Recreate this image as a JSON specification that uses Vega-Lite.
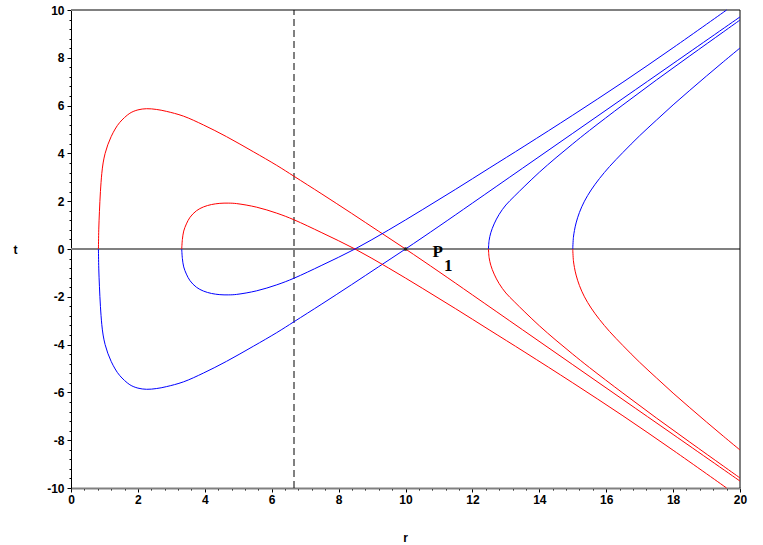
{
  "$schema": "https://vega.github.io/schema/vega-lite/v6.json",
  "width": 669,
  "height": 478,
  "autosize": {"type": "none"},
  "padding": {"left": 71, "top": 10, "right": 23, "bottom": 57},
  "background": "white",
  "config": {
    "view": {"stroke": null},
    "axis": {
      "labelFont": "Liberation Sans",
      "labelFontWeight": "bold",
      "labelFontSize": 12,
      "labelColor": "black",
      "titleFont": "Liberation Sans",
      "titleFontWeight": "bold",
      "titleFontSize": 12,
      "titleColor": "black",
      "grid": false,
      "tickColor": "black",
      "labelOverlap": false
    }
  },
  "datasets": {
    "curves": [
      {"k":"O","b":"red","i":0,"r":0.82,"t":0},
      {"k":"O","b":"red","i":1,"r":0.83,"t":0.8},
      {"k":"O","b":"red","i":2,"r":0.85,"t":1.56},
      {"k":"O","b":"red","i":3,"r":0.88,"t":2.4},
      {"k":"O","b":"red","i":4,"r":0.92,"t":3.15},
      {"k":"O","b":"red","i":5,"r":0.96,"t":3.6},
      {"k":"O","b":"red","i":6,"r":1.02,"t":4.0},
      {"k":"O","b":"red","i":7,"r":1.1,"t":4.36},
      {"k":"O","b":"red","i":8,"r":1.2,"t":4.7},
      {"k":"O","b":"red","i":9,"r":1.32,"t":5.02},
      {"k":"O","b":"red","i":10,"r":1.46,"t":5.3},
      {"k":"O","b":"red","i":11,"r":1.76,"t":5.68},
      {"k":"O","b":"red","i":12,"r":2.0,"t":5.82},
      {"k":"O","b":"red","i":13,"r":2.26,"t":5.87},
      {"k":"O","b":"red","i":14,"r":2.55,"t":5.84},
      {"k":"O","b":"red","i":15,"r":2.85,"t":5.76},
      {"k":"O","b":"red","i":16,"r":3.36,"t":5.56},
      {"k":"O","b":"red","i":17,"r":3.96,"t":5.19},
      {"k":"O","b":"red","i":18,"r":4.65,"t":4.7},
      {"k":"O","b":"red","i":19,"r":5.45,"t":4.07},
      {"k":"O","b":"red","i":20,"r":6.15,"t":3.5},
      {"k":"O","b":"red","i":21,"r":6.67,"t":3.04},
      {"k":"O","b":"red","i":22,"r":7.5,"t":2.3},
      {"k":"O","b":"red","i":23,"r":8.39,"t":1.49},
      {"k":"O","b":"red","i":24,"r":9.2,"t":0.74},
      {"k":"O","b":"red","i":25,"r":10,"t":0},
      {"k":"O","b":"red","i":26,"r":11,"t":-0.95},
      {"k":"O","b":"red","i":27,"r":12,"t":-1.92},
      {"k":"O","b":"red","i":28,"r":13.5,"t":-3.38},
      {"k":"O","b":"red","i":29,"r":15,"t":-4.84},
      {"k":"O","b":"red","i":30,"r":16.5,"t":-6.3},
      {"k":"O","b":"red","i":31,"r":18,"t":-7.76},
      {"k":"O","b":"red","i":32,"r":20,"t":-9.71},

      {"k":"O","b":"blue","i":0,"r":0.82,"t":0},
      {"k":"O","b":"blue","i":1,"r":0.83,"t":-0.8},
      {"k":"O","b":"blue","i":2,"r":0.85,"t":-1.56},
      {"k":"O","b":"blue","i":3,"r":0.88,"t":-2.4},
      {"k":"O","b":"blue","i":4,"r":0.92,"t":-3.15},
      {"k":"O","b":"blue","i":5,"r":0.96,"t":-3.6},
      {"k":"O","b":"blue","i":6,"r":1.02,"t":-4.0},
      {"k":"O","b":"blue","i":7,"r":1.1,"t":-4.36},
      {"k":"O","b":"blue","i":8,"r":1.2,"t":-4.7},
      {"k":"O","b":"blue","i":9,"r":1.32,"t":-5.02},
      {"k":"O","b":"blue","i":10,"r":1.46,"t":-5.3},
      {"k":"O","b":"blue","i":11,"r":1.76,"t":-5.68},
      {"k":"O","b":"blue","i":12,"r":2.0,"t":-5.82},
      {"k":"O","b":"blue","i":13,"r":2.26,"t":-5.87},
      {"k":"O","b":"blue","i":14,"r":2.55,"t":-5.84},
      {"k":"O","b":"blue","i":15,"r":2.85,"t":-5.76},
      {"k":"O","b":"blue","i":16,"r":3.36,"t":-5.56},
      {"k":"O","b":"blue","i":17,"r":3.96,"t":-5.19},
      {"k":"O","b":"blue","i":18,"r":4.65,"t":-4.7},
      {"k":"O","b":"blue","i":19,"r":5.45,"t":-4.07},
      {"k":"O","b":"blue","i":20,"r":6.15,"t":-3.5},
      {"k":"O","b":"blue","i":21,"r":6.67,"t":-3.04},
      {"k":"O","b":"blue","i":22,"r":7.5,"t":-2.3},
      {"k":"O","b":"blue","i":23,"r":8.39,"t":-1.49},
      {"k":"O","b":"blue","i":24,"r":9.2,"t":-0.74},
      {"k":"O","b":"blue","i":25,"r":10,"t":0},
      {"k":"O","b":"blue","i":26,"r":11,"t":0.95},
      {"k":"O","b":"blue","i":27,"r":12,"t":1.92},
      {"k":"O","b":"blue","i":28,"r":13.5,"t":3.38},
      {"k":"O","b":"blue","i":29,"r":15,"t":4.84},
      {"k":"O","b":"blue","i":30,"r":16.5,"t":6.3},
      {"k":"O","b":"blue","i":31,"r":18,"t":7.76},
      {"k":"O","b":"blue","i":32,"r":20,"t":9.71},

      {"k":"I","b":"red","i":0,"r":3.31,"t":0},
      {"k":"I","b":"red","i":1,"r":3.33,"t":0.4},
      {"k":"I","b":"red","i":2,"r":3.37,"t":0.75},
      {"k":"I","b":"red","i":3,"r":3.45,"t":1.05},
      {"k":"I","b":"red","i":4,"r":3.56,"t":1.33},
      {"k":"I","b":"red","i":5,"r":3.75,"t":1.6},
      {"k":"I","b":"red","i":6,"r":3.96,"t":1.76},
      {"k":"I","b":"red","i":7,"r":4.2,"t":1.86},
      {"k":"I","b":"red","i":8,"r":4.45,"t":1.91},
      {"k":"I","b":"red","i":9,"r":4.7,"t":1.92},
      {"k":"I","b":"red","i":10,"r":4.95,"t":1.9},
      {"k":"I","b":"red","i":11,"r":5.55,"t":1.75},
      {"k":"I","b":"red","i":12,"r":6.15,"t":1.5},
      {"k":"I","b":"red","i":13,"r":6.67,"t":1.22},
      {"k":"I","b":"red","i":14,"r":7.5,"t":0.68},
      {"k":"I","b":"red","i":15,"r":8.49,"t":0},
      {"k":"I","b":"red","i":16,"r":9.5,"t":-0.8},
      {"k":"I","b":"red","i":17,"r":10.5,"t":-1.64},
      {"k":"I","b":"red","i":18,"r":11.5,"t":-2.5},
      {"k":"I","b":"red","i":19,"r":12.5,"t":-3.38},
      {"k":"I","b":"red","i":20,"r":13.57,"t":-4.32},
      {"k":"I","b":"red","i":21,"r":15,"t":-5.6},
      {"k":"I","b":"red","i":22,"r":16.5,"t":-6.98},
      {"k":"I","b":"red","i":23,"r":18,"t":-8.42},
      {"k":"I","b":"red","i":24,"r":19.6,"t":-10},

      {"k":"I","b":"blue","i":0,"r":3.31,"t":0},
      {"k":"I","b":"blue","i":1,"r":3.33,"t":-0.4},
      {"k":"I","b":"blue","i":2,"r":3.37,"t":-0.75},
      {"k":"I","b":"blue","i":3,"r":3.45,"t":-1.05},
      {"k":"I","b":"blue","i":4,"r":3.56,"t":-1.33},
      {"k":"I","b":"blue","i":5,"r":3.75,"t":-1.6},
      {"k":"I","b":"blue","i":6,"r":3.96,"t":-1.76},
      {"k":"I","b":"blue","i":7,"r":4.2,"t":-1.86},
      {"k":"I","b":"blue","i":8,"r":4.45,"t":-1.91},
      {"k":"I","b":"blue","i":9,"r":4.7,"t":-1.92},
      {"k":"I","b":"blue","i":10,"r":4.95,"t":-1.9},
      {"k":"I","b":"blue","i":11,"r":5.55,"t":-1.75},
      {"k":"I","b":"blue","i":12,"r":6.15,"t":-1.5},
      {"k":"I","b":"blue","i":13,"r":6.67,"t":-1.22},
      {"k":"I","b":"blue","i":14,"r":7.5,"t":-0.68},
      {"k":"I","b":"blue","i":15,"r":8.49,"t":0},
      {"k":"I","b":"blue","i":16,"r":9.5,"t":0.8},
      {"k":"I","b":"blue","i":17,"r":10.5,"t":1.64},
      {"k":"I","b":"blue","i":18,"r":11.5,"t":2.5},
      {"k":"I","b":"blue","i":19,"r":12.5,"t":3.38},
      {"k":"I","b":"blue","i":20,"r":13.57,"t":4.32},
      {"k":"I","b":"blue","i":21,"r":15,"t":5.6},
      {"k":"I","b":"blue","i":22,"r":16.5,"t":6.98},
      {"k":"I","b":"blue","i":23,"r":18,"t":8.42},
      {"k":"I","b":"blue","i":24,"r":19.6,"t":10},

      {"k":"H1","b":"red","i":0,"r":12.48,"t":0},
      {"k":"H1","b":"red","i":1,"r":12.5,"t":-0.36},
      {"k":"H1","b":"red","i":2,"r":12.55,"t":-0.68},
      {"k":"H1","b":"red","i":3,"r":12.65,"t":-1.05},
      {"k":"H1","b":"red","i":4,"r":12.8,"t":-1.45},
      {"k":"H1","b":"red","i":5,"r":13.0,"t":-1.84},
      {"k":"H1","b":"red","i":6,"r":13.25,"t":-2.2},
      {"k":"H1","b":"red","i":7,"r":13.57,"t":-2.64},
      {"k":"H1","b":"red","i":8,"r":14.0,"t":-3.21},
      {"k":"H1","b":"red","i":9,"r":14.5,"t":-3.82},
      {"k":"H1","b":"red","i":10,"r":15.0,"t":-4.4},
      {"k":"H1","b":"red","i":11,"r":15.5,"t":-4.96},
      {"k":"H1","b":"red","i":12,"r":16.5,"t":-6.03},
      {"k":"H1","b":"red","i":13,"r":17.5,"t":-7.07},
      {"k":"H1","b":"red","i":14,"r":18.5,"t":-8.08},
      {"k":"H1","b":"red","i":15,"r":19.5,"t":-9.08},
      {"k":"H1","b":"red","i":16,"r":20,"t":-9.58},

      {"k":"H1","b":"blue","i":0,"r":12.48,"t":0},
      {"k":"H1","b":"blue","i":1,"r":12.5,"t":0.36},
      {"k":"H1","b":"blue","i":2,"r":12.55,"t":0.68},
      {"k":"H1","b":"blue","i":3,"r":12.65,"t":1.05},
      {"k":"H1","b":"blue","i":4,"r":12.8,"t":1.45},
      {"k":"H1","b":"blue","i":5,"r":13.0,"t":1.84},
      {"k":"H1","b":"blue","i":6,"r":13.25,"t":2.2},
      {"k":"H1","b":"blue","i":7,"r":13.57,"t":2.64},
      {"k":"H1","b":"blue","i":8,"r":14.0,"t":3.21},
      {"k":"H1","b":"blue","i":9,"r":14.5,"t":3.82},
      {"k":"H1","b":"blue","i":10,"r":15.0,"t":4.4},
      {"k":"H1","b":"blue","i":11,"r":15.5,"t":4.96},
      {"k":"H1","b":"blue","i":12,"r":16.5,"t":6.03},
      {"k":"H1","b":"blue","i":13,"r":17.5,"t":7.07},
      {"k":"H1","b":"blue","i":14,"r":18.5,"t":8.08},
      {"k":"H1","b":"blue","i":15,"r":19.5,"t":9.08},
      {"k":"H1","b":"blue","i":16,"r":20,"t":9.58},

      {"k":"H2","b":"red","i":0,"r":15.0,"t":0},
      {"k":"H2","b":"red","i":1,"r":15.02,"t":-0.49},
      {"k":"H2","b":"red","i":2,"r":15.05,"t":-0.77},
      {"k":"H2","b":"red","i":3,"r":15.1,"t":-1.09},
      {"k":"H2","b":"red","i":4,"r":15.2,"t":-1.53},
      {"k":"H2","b":"red","i":5,"r":15.35,"t":-2.0},
      {"k":"H2","b":"red","i":6,"r":15.55,"t":-2.47},
      {"k":"H2","b":"red","i":7,"r":15.8,"t":-2.95},
      {"k":"H2","b":"red","i":8,"r":16.1,"t":-3.45},
      {"k":"H2","b":"red","i":9,"r":16.5,"t":-4.04},
      {"k":"H2","b":"red","i":10,"r":17.0,"t":-4.74},
      {"k":"H2","b":"red","i":11,"r":17.5,"t":-5.39},
      {"k":"H2","b":"red","i":12,"r":18.0,"t":-6.03},
      {"k":"H2","b":"red","i":13,"r":18.5,"t":-6.64},
      {"k":"H2","b":"red","i":14,"r":19.0,"t":-7.24},
      {"k":"H2","b":"red","i":15,"r":19.5,"t":-7.83},
      {"k":"H2","b":"red","i":16,"r":20,"t":-8.41},

      {"k":"H2","b":"blue","i":0,"r":15.0,"t":0},
      {"k":"H2","b":"blue","i":1,"r":15.02,"t":0.49},
      {"k":"H2","b":"blue","i":2,"r":15.05,"t":0.77},
      {"k":"H2","b":"blue","i":3,"r":15.1,"t":1.09},
      {"k":"H2","b":"blue","i":4,"r":15.2,"t":1.53},
      {"k":"H2","b":"blue","i":5,"r":15.35,"t":2.0},
      {"k":"H2","b":"blue","i":6,"r":15.55,"t":2.47},
      {"k":"H2","b":"blue","i":7,"r":15.8,"t":2.95},
      {"k":"H2","b":"blue","i":8,"r":16.1,"t":3.45},
      {"k":"H2","b":"blue","i":9,"r":16.5,"t":4.04},
      {"k":"H2","b":"blue","i":10,"r":17.0,"t":4.74},
      {"k":"H2","b":"blue","i":11,"r":17.5,"t":5.39},
      {"k":"H2","b":"blue","i":12,"r":18.0,"t":6.03},
      {"k":"H2","b":"blue","i":13,"r":18.5,"t":6.64},
      {"k":"H2","b":"blue","i":14,"r":19.0,"t":7.24},
      {"k":"H2","b":"blue","i":15,"r":19.5,"t":7.83},
      {"k":"H2","b":"blue","i":16,"r":20,"t":8.41}
    ],
    "hlines": [
      {"r": 0, "r2": 20, "t": 0},
      {"r": 0, "r2": 20, "t": 10}
    ],
    "labels": [
      {"txt":"P","r":10.81,"t":-0.35},
      {"txt":"1","r":11.15,"t":-0.91}
    ]
  },
  "encoding": {
    "x": {"field": "r", "type": "quantitative", "scale": {"domain": [0, 20], "nice": false, "zero": false},
      "axis": {
        "title": "r", "titleX": 334, "titleY": 49, "titleAlign": "center", "titleBaseline": "middle",
        "domainColor": "#808080", "domainWidth": 2,
        "values": [0,0.4,0.8,1.2,1.6,2,2.4,2.8,3.2,3.6,4,4.4,4.8,5.2,5.6,6,6.4,6.8,7.2,7.6,8,8.4,8.8,9.2,9.6,10,10.4,10.8,11.2,11.6,12,12.4,12.8,13.2,13.6,14,14.4,14.8,15.2,15.6,16,16.4,16.8,17.2,17.6,18,18.4,18.8,19.2,19.6,20],
        "labelExpr": "abs(datum.value/2 - round(datum.value/2)) < 0.01 ? '' + round(datum.value) : ''",
        "tickSize": {"condition": {"test": "abs(datum.value/2 - round(datum.value/2)) < 0.01", "value": 4}, "value": 2},
        "labelPadding": 2,
        "labelOverlap": false,
        "labelFlush": false,
        "labelBound": false
      }},
    "y": {"field": "t", "type": "quantitative", "scale": {"domain": [-10, 10], "nice": false, "zero": false},
      "axis": {
        "title": "t", "titleAngle": 0, "titleX": -56, "titleY": 239, "titleAlign": "center", "titleBaseline": "middle",
        "domainColor": "black", "domainWidth": 1,
        "values": [-10,-9.6,-9.2,-8.8,-8.4,-8,-7.6,-7.2,-6.8,-6.4,-6,-5.6,-5.2,-4.8,-4.4,-4,-3.6,-3.2,-2.8,-2.4,-2,-1.6,-1.2,-0.8,-0.4,0,0.4,0.8,1.2,1.6,2,2.4,2.8,3.2,3.6,4,4.4,4.8,5.2,5.6,6,6.4,6.8,7.2,7.6,8,8.4,8.8,9.2,9.6,10],
        "labelExpr": "abs(datum.value/2 - round(datum.value/2)) < 0.01 ? '' + round(datum.value) : ''",
        "tickSize": {"condition": {"test": "abs(datum.value/2 - round(datum.value/2)) < 0.01", "value": 4}, "value": 2},
        "labelPadding": 3,
        "labelOverlap": false,
        "labelFlush": false,
        "labelBound": false
      }}
  },
  "layer": [
    {
      "data": {"name": "hlines"},
      "mark": {"type": "rule", "color": "#808080", "strokeWidth": 2},
      "encoding": {"x2": {"field": "r2"}}
    },
    {
      "data": {"values": [{"r": 20, "t": -10, "t2": 10}]},
      "mark": {"type": "rule", "color": "black", "strokeWidth": 1},
      "encoding": {"y2": {"field": "t2"}}
    },
    {
      "data": {"values": [{"r": 6.667, "t": -10, "t2": 10}]},
      "mark": {"type": "rule", "color": "black", "strokeWidth": 1, "strokeDash": [7, 4]},
      "encoding": {"y2": {"field": "t2"}}
    },
    {
      "data": {"name": "curves"},
      "mark": {"type": "line", "strokeWidth": 1, "interpolate": "catmull-rom"},
      "encoding": {
        "detail": {"field": "k"},
        "color": {"field": "b", "type": "nominal", "scale": {"domain": ["red", "blue"], "range": ["#ff0000", "#0000ff"]}, "legend": null},
        "order": {"field": "i", "type": "quantitative"}
      }
    },
    {
      "data": {"values": [{"r": 10, "t": 0}]},
      "mark": {"type": "point", "filled": true, "color": "#202020", "size": 14, "opacity": 1}
    },
    {
      "data": {"name": "labels"},
      "mark": {"type": "text", "align": "left", "baseline": "alphabetic", "font": "Liberation Serif", "fontWeight": "bold", "fontSize": 17, "color": "black"},
      "encoding": {"text": {"field": "txt"}}
    }
  ]
}
